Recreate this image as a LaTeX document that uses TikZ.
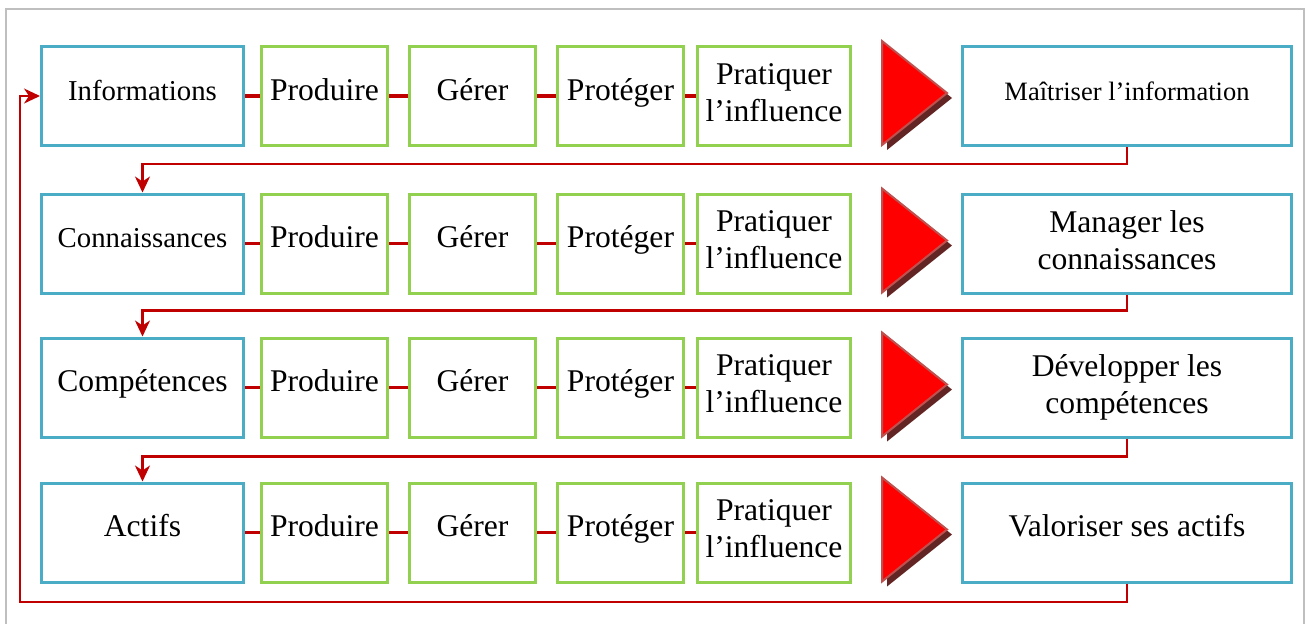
\documentclass[tikz,border=0pt]{standalone}
\usepackage{fontspec}
\setmainfont{Liberation Serif}
\usetikzlibrary{positioning,arrows.meta}

\definecolor{bleu}{HTML}{4BACC6}
\definecolor{vert}{HTML}{92D050}
\definecolor{rouge}{HTML}{C00000}
\definecolor{bordrouge}{HTML}{C0504D}
\definecolor{ombre}{HTML}{632523}
\definecolor{cadre}{HTML}{BFBFBF}

\begin{document}
\begin{tikzpicture}[
    x=0.5pt, y=-0.5pt,
    box/.style={rectangle, draw, line width=1.5pt, minimum height=49.5pt,
                inner sep=0pt, font=\fontsize{15.8}{18.5}\selectfont},
    axe/.style={box, draw=bleu, minimum width=101pt},
    but/.style={box, draw=bleu, minimum width=164.5pt},
    etape/.style={box, draw=vert, minimum width=63pt},
    large/.style={etape, minimum width=76.5pt},
    oneline/.style={text height=11pt, text depth=7pt},
    twolines/.style={align=center, execute at end node={\rule[-3.5pt]{0pt}{3.5pt}}},
    petit/.style={font=\fontsize{14.4}{17}\selectfont},
    lien/.style={draw=rouge, line width=1.8pt},
    suite/.style={draw=rouge, line width=1.1pt,
                  -{Stealth[length=8pt, width=7.5pt, inset=2.5pt]}},
    fleche/.pic={
        \fill[ombre] (5,5) -- (70,57) -- (5,109) -- cycle;
        \filldraw[fill=red, draw=bordrouge, line width=1pt] (0,0) -- (65,52) -- (0,104) -- cycle;
    }
]
    \useasboundingbox (0,0) rectangle (1311,623);
    \draw[cadre, line width=1pt] (6,640) -- (6,9) -- (1304,9) -- (1304,640);

    % ligne 1
    \node[axe, oneline, petit] (axe1) at (142.5,96) {Informations};
    \node[etape, oneline, right=7.5pt of axe1] (pro1) {Produire};
    \node[etape, oneline, right=9.5pt of pro1] (ger1) {Gérer};
    \node[etape, oneline, right=9.5pt of ger1] (prot1) {Protéger};
    \node[large, twolines, right=5.5pt of prot1] (pra1) {Pratiquer\\l’influence};
    \node[but, oneline, right=54.5pt of pra1, font=\fontsize{13.25}{16}\selectfont] (but1) {Maîtriser l’information};
    \pic at ([xshift=15pt, yshift=2pt]pra1.north east) {fleche};

    % ligne 2
    \node[axe, oneline, petit] (axe2) at (142.5,243.5) {Connaissances};
    \node[etape, oneline, right=7.5pt of axe2] (pro2) {Produire};
    \node[etape, oneline, right=9.5pt of pro2] (ger2) {Gérer};
    \node[etape, oneline, right=9.5pt of ger2] (prot2) {Protéger};
    \node[large, twolines, right=5.5pt of prot2] (pra2) {Pratiquer\\l’influence};
    \node[but, twolines, right=54.5pt of pra2] (but2) {Manager les\\connaissances};
    \pic at ([xshift=15pt, yshift=2pt]pra2.north east) {fleche};

    % ligne 3
    \node[axe, oneline] (axe3) at (142.5,387.5) {Compétences};
    \node[etape, oneline, right=7.5pt of axe3] (pro3) {Produire};
    \node[etape, oneline, right=9.5pt of pro3] (ger3) {Gérer};
    \node[etape, oneline, right=9.5pt of ger3] (prot3) {Protéger};
    \node[large, twolines, right=5.5pt of prot3] (pra3) {Pratiquer\\l’influence};
    \node[but, twolines, right=54.5pt of pra3] (but3) {Développer les\\compétences};
    \pic at ([xshift=15pt, yshift=2pt]pra3.north east) {fleche};

    % ligne 4
    \node[axe, oneline] (axe4) at (142.5,532.5) {Actifs};
    \node[etape, oneline, right=7.5pt of axe4] (pro4) {Produire};
    \node[etape, oneline, right=9.5pt of pro4] (ger4) {Gérer};
    \node[etape, oneline, right=9.5pt of ger4] (prot4) {Protéger};
    \node[large, twolines, right=5.5pt of prot4] (pra4) {Pratiquer\\l’influence};
    \node[but, oneline, right=54.5pt of pra4] (but4) {Valoriser ses actifs};
    \pic at ([xshift=15pt, yshift=2pt]pra4.north east) {fleche};

    % liens dans chaque ligne
    \draw[lien] (axe1) -- (pro1) (pro1) -- (ger1) (ger1) -- (prot1) (prot1) -- (pra1);
    \draw[lien] (axe2) -- (pro2) (pro2) -- (ger2) (ger2) -- (prot2) (prot2) -- (pra2);
    \draw[lien] (axe3) -- (pro3) (pro3) -- (ger3) (ger3) -- (prot3) (prot3) -- (pra3);
    \draw[lien] (axe4) -- (pro4) (pro4) -- (ger4) (ger4) -- (prot4) (prot4) -- (pra4);

    % passage d'une ligne a l'autre
    \draw[suite] (but1.south) -- ++(0,17) -| (axe2.north);
    \draw[suite] (but2.south) -- ++(0,16) -| (axe3.north);
    \draw[suite] (but3.south) -- ++(0,18) -| (axe4.north);
    \coordinate (retour) at (20,602);
    \draw[suite] (but4.south) |- (retour) |- (axe1.west);
\end{tikzpicture}
\end{document}
